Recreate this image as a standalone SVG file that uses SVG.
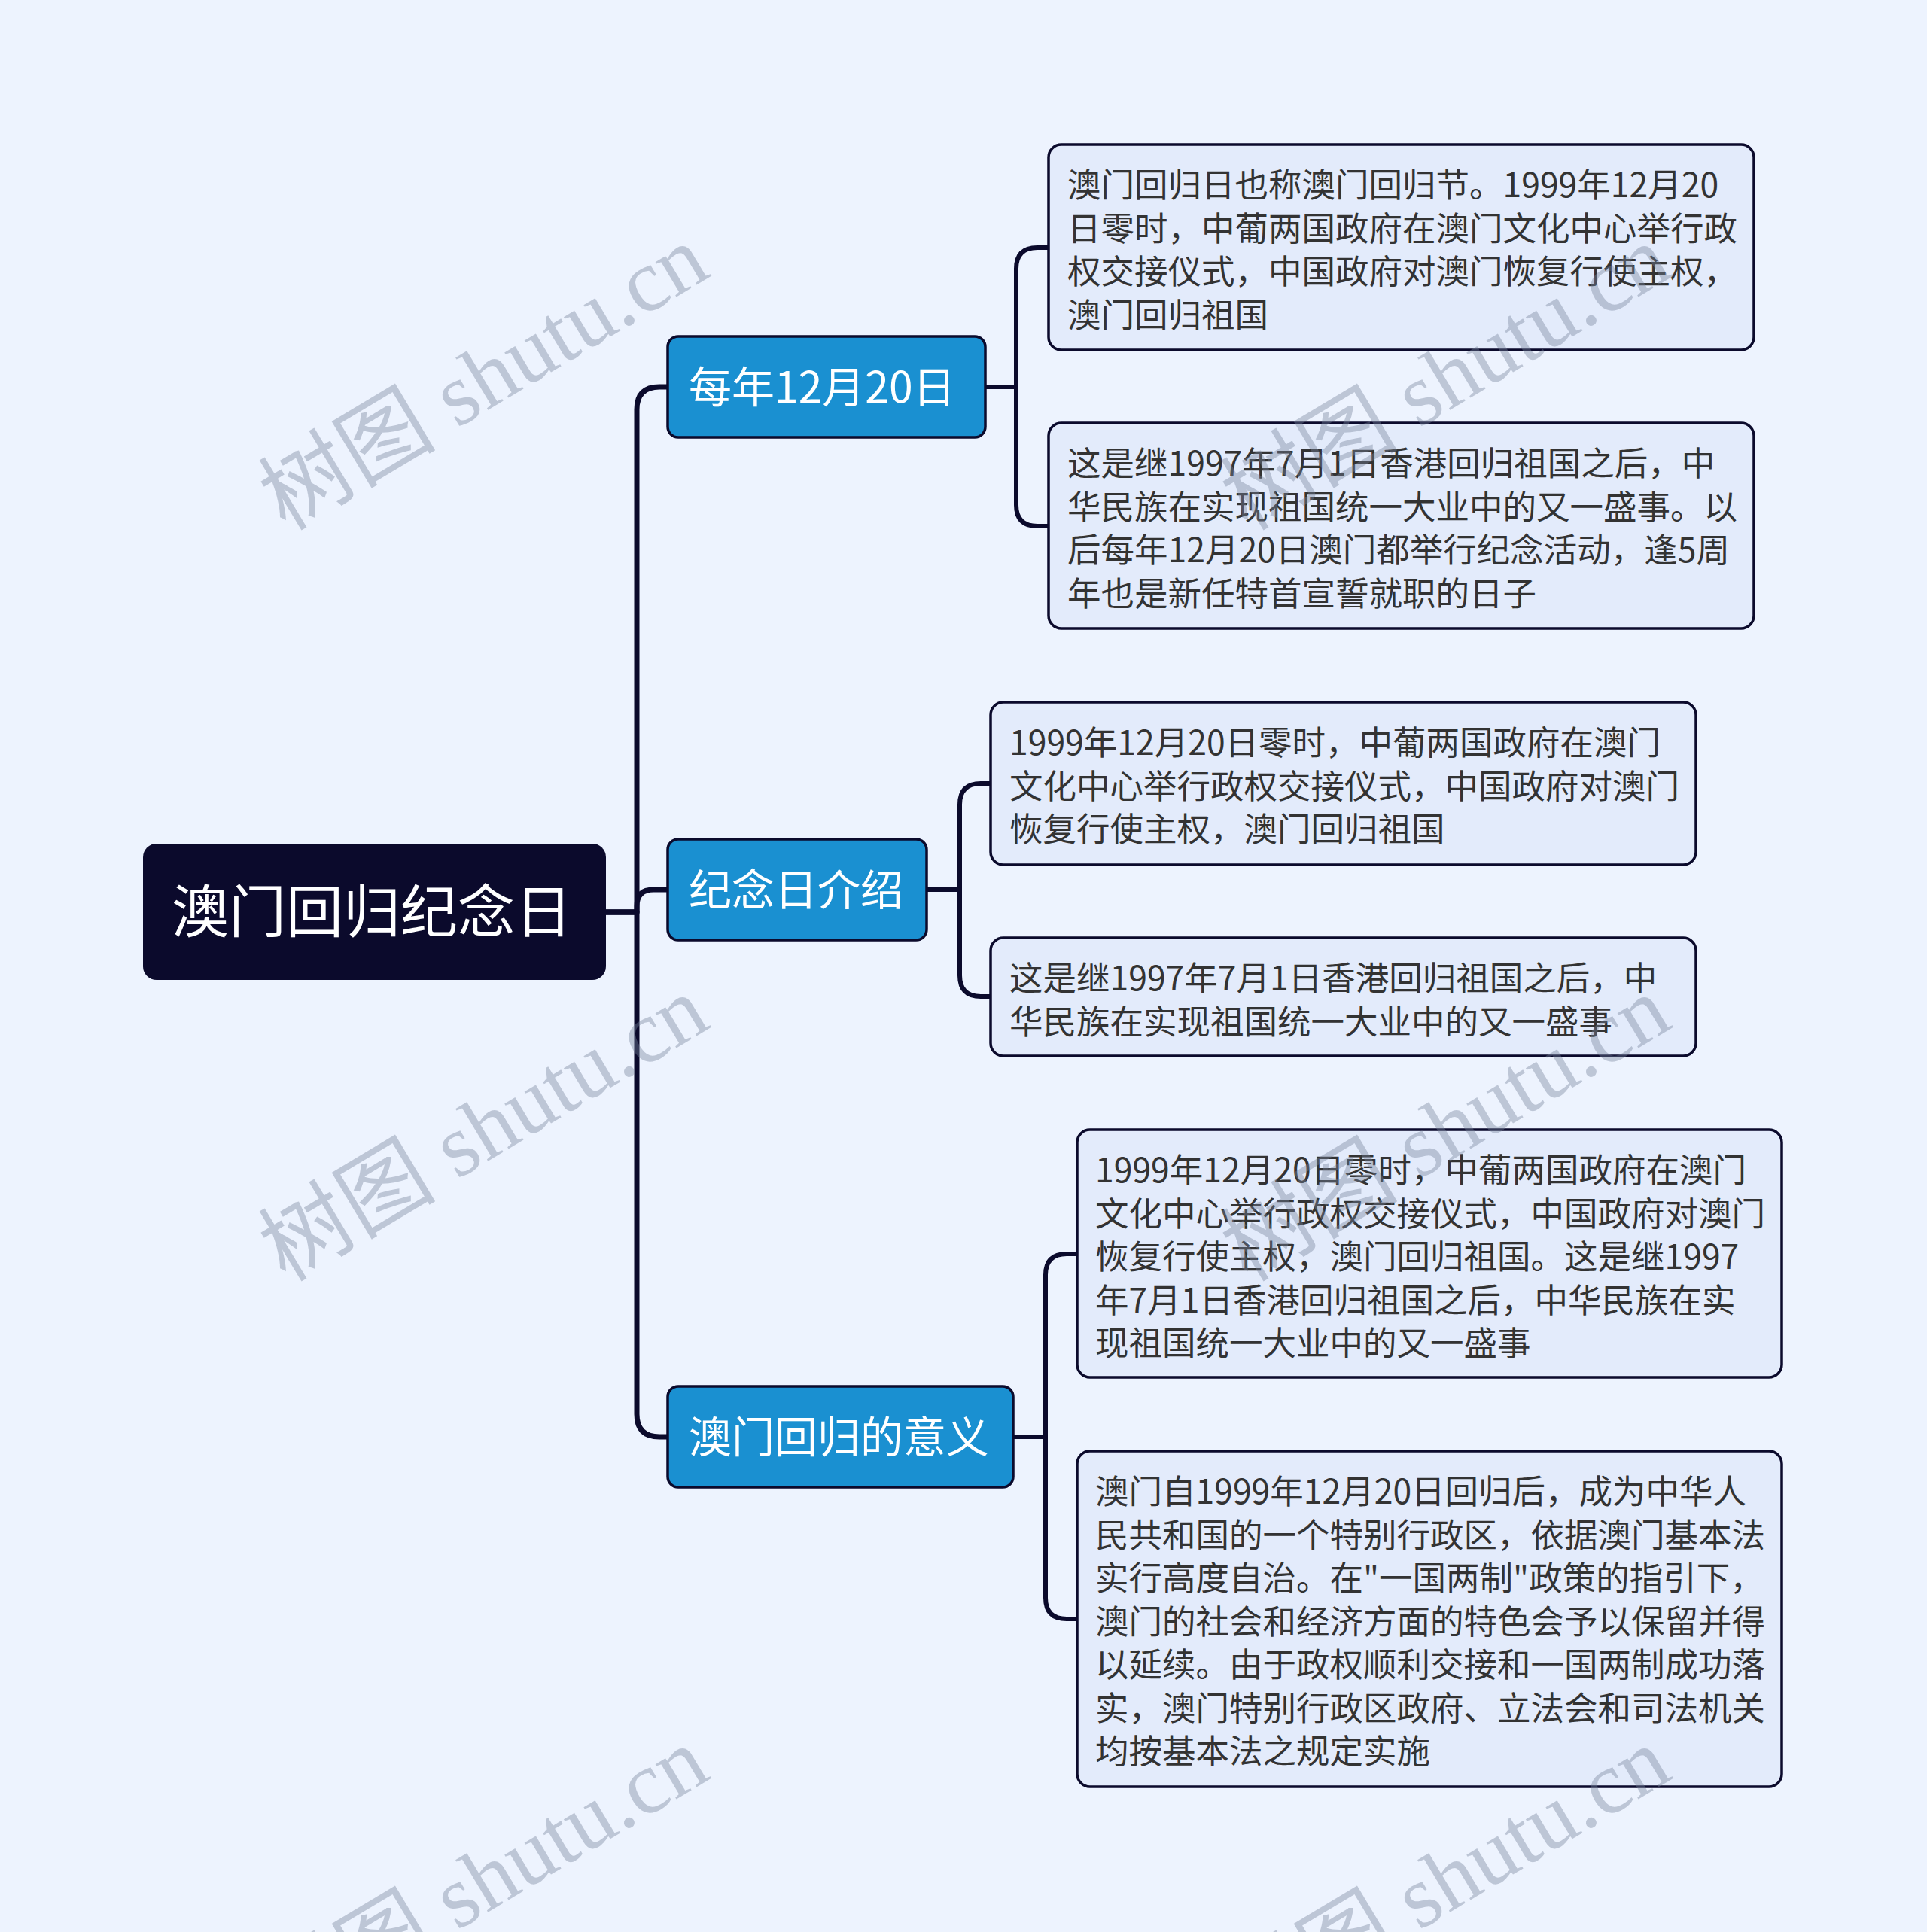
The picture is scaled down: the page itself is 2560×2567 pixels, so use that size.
<svg xmlns="http://www.w3.org/2000/svg" width="2560" height="2567" viewBox="0 0 2560 2567">
<style>
.bg{fill:#edf3fe}
.root{fill:#0b0a2c}
.rootText{fill:#ffffff;font-family:"Noto Sans CJK SC","Noto Sans",sans-serif;font-size:76px}
.branch{fill:#1a90d1;stroke:#0b0a2c;stroke-width:3.5}
.branchText{fill:#ffffff;font-family:"Noto Sans CJK SC","Noto Sans",sans-serif;font-size:57px}
.leaf{fill:#e3ebfb;stroke:#0b0a2c;stroke-width:3.5}
.leafText{fill:#333333;font-family:"Noto Sans CJK SC","Noto Sans",sans-serif;font-size:44.5px}
.conn{fill:none;stroke:#0b0a2c;stroke-width:7;stroke-linejoin:round}
.conn2{fill:none;stroke:#0b0a2c;stroke-width:6;stroke-linejoin:round}
.wm{fill:#76829a;fill-opacity:0.4;font-family:"Liberation Serif","Noto Sans CJK SC",serif;font-size:118px}
</style>
<rect class="bg" x="0" y="0" width="2560" height="2567"/>
<g id="connectors">
<path class="conn" d="M805 1212 H846 V544 Q846 514 876 514 H890"/>
<path class="conn" d="M805 1212 H846 V1204 Q846 1182 868 1182 H890"/>
<path class="conn" d="M805 1212 H846 V1879 Q846 1909 876 1909 H890"/>
<path class="conn2" d="M1309 514 H1350 V357 Q1350 329 1378 329 H1395"/>
<path class="conn2" d="M1309 514 H1350 V671 Q1350 699 1378 699 H1395"/>
<path class="conn2" d="M1231 1182 H1275 V1069 Q1275 1041 1303 1041 H1318"/>
<path class="conn2" d="M1231 1182 H1275 V1296 Q1275 1324 1303 1324 H1318"/>
<path class="conn2" d="M1346 1909 H1389 V1694 Q1389 1666 1417 1666 H1433"/>
<path class="conn2" d="M1346 1909 H1389 V2123 Q1389 2151 1417 2151 H1433"/>
</g>
<g id="root">
<rect class="root" x="190" y="1121" width="615" height="181" rx="18"/>
<text class="rootText" x="494" y="1239" text-anchor="middle">澳门回归纪念日</text>
</g>
<g id="branch1">
<rect class="branch" x="887" y="447" width="422" height="134" rx="14"/>
<text class="branchText" x="915" y="535">每年12月20日</text>
</g>
<g id="branch2">
<rect class="branch" x="887" y="1115" width="344" height="134" rx="14"/>
<text class="branchText" x="915" y="1203">纪念日介绍</text>
</g>
<g id="branch3">
<rect class="branch" x="887" y="1842" width="459" height="134" rx="14"/>
<text class="branchText" x="915" y="1930">澳门回归的意义</text>
</g>
<g id="leaf1a">
<rect class="leaf" x="1393" y="192" width="937" height="273" rx="17"/>
<text class="leafText">
<tspan x="1418" y="262">澳门回归日也称澳门回归节。1999年12月20</tspan>
<tspan x="1418" y="320">日零时，中葡两国政府在澳门文化中心举行政</tspan>
<tspan x="1418" y="377">权交接仪式，中国政府对澳门恢复行使主权，</tspan>
<tspan x="1418" y="435">澳门回归祖国</tspan>
</text>
</g>
<g id="leaf1b">
<rect class="leaf" x="1393" y="562" width="937" height="273" rx="17"/>
<text class="leafText">
<tspan x="1418" y="632">这是继1997年7月1日香港回归祖国之后，中</tspan>
<tspan x="1418" y="690">华民族在实现祖国统一大业中的又一盛事。以</tspan>
<tspan x="1418" y="747">后每年12月20日澳门都举行纪念活动，逢5周</tspan>
<tspan x="1418" y="805">年也是新任特首宣誓就职的日子</tspan>
</text>
</g>
<g id="leaf2a">
<rect class="leaf" x="1316" y="933" width="937" height="216" rx="17"/>
<text class="leafText">
<tspan x="1341" y="1003">1999年12月20日零时，中葡两国政府在澳门</tspan>
<tspan x="1341" y="1061">文化中心举行政权交接仪式，中国政府对澳门</tspan>
<tspan x="1341" y="1118">恢复行使主权，澳门回归祖国</tspan>
</text>
</g>
<g id="leaf2b">
<rect class="leaf" x="1316" y="1246" width="937" height="157" rx="17"/>
<text class="leafText">
<tspan x="1341" y="1316">这是继1997年7月1日香港回归祖国之后，中</tspan>
<tspan x="1341" y="1374">华民族在实现祖国统一大业中的又一盛事</tspan>
</text>
</g>
<g id="leaf3a">
<rect class="leaf" x="1431" y="1501" width="936" height="329" rx="17"/>
<text class="leafText">
<tspan x="1455" y="1571">1999年12月20日零时，中葡两国政府在澳门</tspan>
<tspan x="1455" y="1629">文化中心举行政权交接仪式，中国政府对澳门</tspan>
<tspan x="1455" y="1686">恢复行使主权，澳门回归祖国。这是继1997</tspan>
<tspan x="1455" y="1744">年7月1日香港回归祖国之后，中华民族在实</tspan>
<tspan x="1455" y="1801">现祖国统一大业中的又一盛事</tspan>
</text>
</g>
<g id="leaf3b">
<rect class="leaf" x="1431" y="1928" width="936" height="446" rx="17"/>
<text class="leafText">
<tspan x="1455" y="1998">澳门自1999年12月20日回归后，成为中华人</tspan>
<tspan x="1455" y="2056">民共和国的一个特别行政区，依据澳门基本法</tspan>
<tspan x="1455" y="2113">实行高度自治。在"一国两制"政策的指引下，</tspan>
<tspan x="1455" y="2171">澳门的社会和经济方面的特色会予以保留并得</tspan>
<tspan x="1455" y="2228">以延续。由于政权顺利交接和一国两制成功落</tspan>
<tspan x="1455" y="2286">实，澳门特别行政区政府、立法会和司法机关</tspan>
<tspan x="1455" y="2343">均按基本法之规定实施</tspan>
</text>
</g>
<g id="watermarks">
<text class="wm" x="663" y="536" text-anchor="middle" transform="rotate(-31 663 536)">树图 shutu.cn</text>
<text class="wm" x="663" y="1534" text-anchor="middle" transform="rotate(-31 663 1534)">树图 shutu.cn</text>
<text class="wm" x="663" y="2532" text-anchor="middle" transform="rotate(-31 663 2532)">树图 shutu.cn</text>
<text class="wm" x="1941" y="536" text-anchor="middle" transform="rotate(-31 1941 536)">树图 shutu.cn</text>
<text class="wm" x="1941" y="1534" text-anchor="middle" transform="rotate(-31 1941 1534)">树图 shutu.cn</text>
<text class="wm" x="1941" y="2532" text-anchor="middle" transform="rotate(-31 1941 2532)">树图 shutu.cn</text>
</g>
</svg>
